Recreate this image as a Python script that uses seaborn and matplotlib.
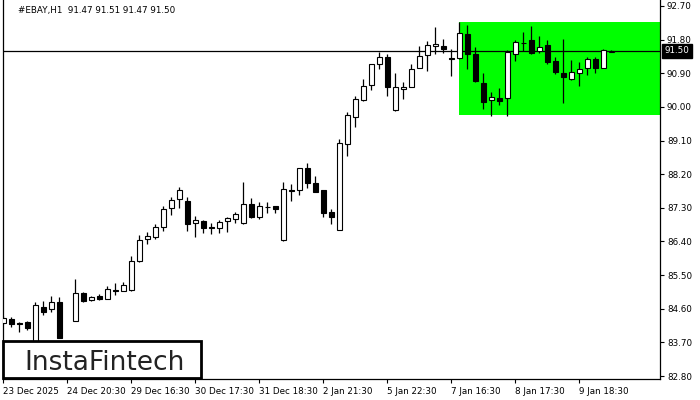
import numpy as np
import pandas as pd
import matplotlib
matplotlib.use("Agg")
import matplotlib.pyplot as plt
import matplotlib.transforms as mtransforms
from matplotlib.patches import Rectangle
import seaborn as sns

# ---------------- data ----------------
opens = [84.21, 84.32, 84.22, 84.24, 83.70, 84.65, 84.58, 84.77, 83.68, 84.28,
         85.01, 84.83, 84.94, 84.86, 85.09, 85.08, 85.10, 85.87, 86.47, 86.51,
         86.79, 87.29, 87.54, 87.47, 86.90, 86.95, 86.78, 86.75, 86.94, 87.01,
         86.89, 87.39, 87.05, 87.31, 87.34, 86.43, 87.77, 87.77, 88.36, 87.96,
         87.78, 87.20, 86.71, 89.00, 89.74, 90.18, 90.58, 91.14, 91.33, 89.92,
         90.47, 90.54, 91.03, 91.38, 91.62, 91.63, 91.30, 91.32, 91.95, 91.42,
         90.64, 90.18, 90.23, 90.23, 91.42, 91.70, 91.78, 91.49, 91.65, 91.22,
         90.90, 90.75, 90.90, 91.03, 91.28, 91.03, 91.47]
highs = [84.40, 84.39, 84.25, 84.27, 84.77, 84.81, 84.94, 84.92, 83.70, 85.39,
         85.05, 84.94, 84.99, 85.22, 85.28, 85.31, 86.01, 86.57, 86.66, 86.87,
         87.35, 87.60, 87.86, 87.60, 87.08, 86.97, 86.90, 86.97, 87.06, 87.20,
         88.00, 87.55, 87.46, 87.46, 87.35, 87.98, 87.94, 88.36, 88.49, 88.15,
         87.78, 87.27, 89.14, 89.86, 90.29, 90.74, 91.15, 91.46, 91.41, 90.90,
         90.67, 91.15, 91.63, 91.76, 92.13, 91.82, 91.54, 92.28, 92.19, 91.60,
         90.91, 90.39, 90.50, 91.52, 91.79, 92.00, 92.16, 91.89, 91.78, 91.33,
         91.82, 91.25, 91.19, 91.33, 91.33, 91.54, 91.51]
lows = [84.18, 84.12, 83.97, 84.03, 83.60, 84.43, 84.52, 83.81, 83.55, 84.27,
        84.79, 84.81, 84.83, 84.85, 84.97, 85.07, 85.08, 85.85, 86.32, 86.47,
        86.69, 87.12, 87.30, 86.69, 86.53, 86.62, 86.60, 86.63, 86.66, 86.89,
        86.86, 87.03, 87.01, 87.17, 87.17, 86.42, 87.49, 87.64, 87.82, 87.73,
        87.06, 86.86, 86.70, 88.69, 89.47, 90.17, 90.45, 91.02, 90.29, 89.90,
        90.22, 90.54, 91.03, 90.97, 91.41, 91.43, 90.84, 91.27, 91.01, 90.67,
        89.94, 89.76, 90.05, 89.76, 91.24, 91.50, 91.41, 91.45, 91.16, 90.88,
        90.10, 90.72, 90.57, 90.85, 90.92, 91.03, 91.47]
closes = [84.36, 84.18, 84.20, 84.08, 84.70, 84.50, 84.77, 83.82, 83.62, 85.01,
          84.81, 84.91, 84.86, 85.12, 85.08, 85.23, 85.88, 86.43, 86.55, 86.80,
          87.26, 87.50, 87.77, 86.87, 86.97, 86.77, 86.77, 86.91, 87.02, 87.13,
          87.39, 87.06, 87.34, 87.31, 87.28, 87.80, 87.76, 88.36, 87.96, 87.73,
          87.17, 87.05, 89.03, 89.78, 90.20, 90.55, 91.14, 91.33, 90.54, 90.54,
          90.54, 91.02, 91.35, 91.65, 91.68, 91.54, 91.27, 91.97, 91.42, 90.69,
          90.14, 90.26, 90.17, 91.46, 91.73, 91.70, 91.45, 91.61, 91.21, 90.94,
          90.81, 90.93, 91.01, 91.27, 91.05, 91.52, 91.50]

x_tick_labels = ["23 Dec 2025", "24 Dec 20:30", "29 Dec 16:30", "30 Dec 17:30",
                 "31 Dec 18:30", "2 Jan 21:30", "5 Jan 22:30", "7 Jan 16:30",
                 "8 Jan 17:30", "9 Jan 18:30"]
x_tick_bars = [0, 8, 16, 24, 32, 40, 48, 56, 64, 72]
y_ticks = [82.80, 83.70, 84.60, 85.50, 86.40, 87.30, 88.20, 89.10, 90.00, 90.90, 91.80, 92.70]

current_price = 91.50
title_text = "#EBAY,H1  91.47 91.51 91.47 91.50"
zone_start_bar = 57
zone_low = 89.79
zone_high = 92.27
logo_text = "InstaFintech"

# ---------------- style ----------------
sns.set_theme(style="white")
plt.rcParams['font.family'] = ['DejaVu Sans']

df = pd.DataFrame({"bar": np.arange(len(opens)), "open": opens, "high": highs,
                   "low": lows, "close": closes})
df["bull"] = df["close"] >= df["open"]
df["body_lo"] = df[["open", "close"]].min(axis=1)
df["body_h"] = (df["close"] - df["open"]).abs()

W, H = 700, 400
fig = plt.figure(figsize=(7, 4), dpi=100)
fig.patch.set_facecolor("white")
ax = fig.add_axes([3 / W, (H - 379) / H, 657 / W, 379 / H])
ax.set_facecolor("white")

xmax = 82.09
ax.set_xlim(-0.04, xmax)
ax.set_ylim(82.72, 92.86)

# green zone
ax.add_patch(Rectangle((zone_start_bar, zone_low), xmax + 1 - zone_start_bar,
                       zone_high - zone_low, facecolor="#00ff00", edgecolor="none",
                       zorder=0))

# price line
ax.axhline(current_price, color="black", lw=0.9, zorder=1)

# wicks
ax.vlines(df["bar"], df["low"], df["high"], color="black", lw=0.9, zorder=2)
# bodies
colors = np.where(df["bull"], "white", "black")
ax.bar(df["bar"], df["body_h"], bottom=df["body_lo"], width=0.62,
       color=colors, edgecolor="black", linewidth=0.8, zorder=3)

# axes styling
for s in ["left", "right", "bottom"]:
    ax.spines[s].set_visible(True)
    ax.spines[s].set_color("black")
    ax.spines[s].set_linewidth(0.9)
ax.spines["top"].set_visible(False)
ax.grid(False)

ax.yaxis.tick_right()
ax.set_yticks(y_ticks)
ax.set_yticklabels([f"{v:.2f}" for v in y_ticks])
ax.tick_params(axis="y", which="both", direction="out", length=3, width=0.8,
               colors="black", labelsize=6.3, pad=2, left=False, right=True)
ax.set_xticks(x_tick_bars)
ax.set_xticklabels(x_tick_labels, ha="left")
ax.tick_params(axis="x", direction="out", length=3, width=0.8, colors="black",
               labelsize=6.3, pad=3, bottom=True)
ax.set_xlabel("")
ax.set_ylabel("")

# current price tag
trans = mtransforms.blended_transform_factory(ax.transAxes, ax.transData)
ax.text(1.007, current_price, f"{current_price:.2f}", transform=trans,
        ha="left", va="center", fontsize=6.3, color="white", clip_on=False,
        bbox=dict(boxstyle="square,pad=0.25", facecolor="black", edgecolor="black"),
        zorder=10)

# title
fig.text(18 / W, 1 - 11 / H, title_text, ha="left", va="center",
         fontsize=6.3, color="black")

# logo
ax.add_patch(Rectangle((0, 1 / 379), 198 / 657, 37 / 379, transform=ax.transAxes,
                       facecolor="white", edgecolor="black", linewidth=2.0,
                       clip_on=False, zorder=20))
ax.text(101.5 / 657, 9 / 379, logo_text, transform=ax.transAxes, ha="center",
        va="baseline", fontsize=19, color="#222222", zorder=21)

fig.savefig("out.png", dpi=100, facecolor="white")
